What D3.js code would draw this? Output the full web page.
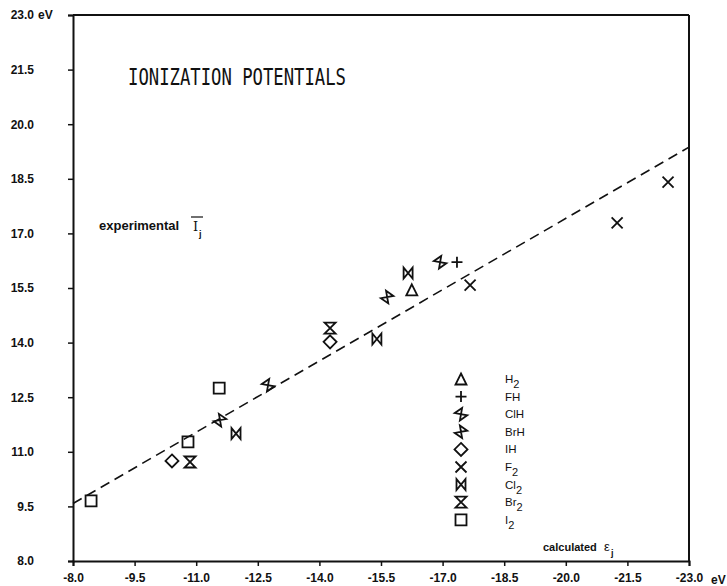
<!DOCTYPE html>
<html>
<head>
<meta charset="utf-8">
<script src="https://cdn.jsdelivr.net/npm/d3@7"></script>
<style>
  body { margin: 0; background: #fff; }
  svg text { font-family: "Liberation Sans", Arial, sans-serif; fill: #111; }
  .tick-label { font-size: 12px; font-weight: bold; }
</style>
</head>
<body>
<div id="chart"></div>
<script>
const svgWidth = 727;
const svgHeight = 586;

const margin = { top: 15, right: 38, bottom: 25, left: 73 };
const width = svgWidth - margin.left - margin.right;
const height = svgHeight - margin.top - margin.bottom;

// tick values
const xTicks = [-8.0, -9.5, -11.0, -12.5, -14.0, -15.5, -17.0, -18.5, -20.0, -21.5, -23.0];
const yTicks = [8.0, 9.5, 11.0, 12.5, 14.0, 15.5, 17.0, 18.5, 20.0, 21.5, 23.0];

// molecules (legend order) and their symbols
const molecules = ["H2", "FH", "ClH", "BrH", "IH", "F2", "Cl2", "Br2", "I2"];
const legendNames = [["H", "2"], ["FH", ""], ["ClH", ""], ["BrH", ""], ["IH", ""], ["F", "2"], ["Cl", "2"], ["Br", "2"], ["I", "2"]];

// calculated eps_j (x) and experimental I_j (y)
const pts_H2  = [[-16.25, 15.45]];
const pts_FH  = [[-17.35, 16.21]];
const pts_ClH = [[-12.75, 12.83], [-16.94, 16.21]];
const pts_BrH = [[-11.58, 11.87], [-15.65, 15.25]];
const pts_IH  = [[-10.41, 10.75], [-14.26, 14.02]];
const pts_F2  = [[-17.67, 15.58], [-21.25, 17.29], [-22.49, 18.41]];
const pts_Cl2 = [[-11.97, 11.50], [-15.40, 14.10], [-16.16, 15.91]];
const pts_Br2 = [[-10.85, 10.72], [-14.26, 14.40]];
const pts_I2  = [[-8.44, 9.65], [-10.80, 11.27], [-11.56, 12.75]];

// fitted dashed line ends
const fitLine = [[-8.0, 9.58], [-23.0, 19.37]];

const svg = d3.select("#chart")
  .append("svg")
  .attr("width", svgWidth)
  .attr("height", svgHeight);

const xScale = d3.scaleLinear().domain([-8, -23]).range([margin.left, margin.left + width]);
const yScale = d3.scaleLinear().domain([8, 23]).range([margin.top + height, margin.top]);

// axes
const bottomAxis = d3.axisBottom(xScale).tickValues(xTicks).tickSize(5).tickFormat(d => d3.format(".1f")(d).replace("−", "-"));
const leftAxis = d3.axisLeft(yScale).tickValues(yTicks).tickSize(5).tickFormat(d3.format(".1f"));

const xAxis = svg.append("g")
  .attr("transform", `translate(0, ${margin.top + height})`)
  .call(bottomAxis);
const yAxis = svg.append("g")
  .attr("transform", `translate(${margin.left}, 0)`)
  .call(leftAxis);

[xAxis, yAxis].forEach(ax => {
  ax.select(".domain").attr("stroke", "#111").attr("stroke-width", 2);
  ax.selectAll(".tick line").attr("stroke", "#111").attr("stroke-width", 1.5);
  ax.selectAll(".tick text")
    .attr("class", "tick-label")
    .attr("font-family", null)
    .attr("font-size", null)
    .attr("fill", "#111");
});
xAxis.selectAll(".tick text").attr("y", 12);
// y labels right-aligned at x = 34
yAxis.selectAll(".tick text").attr("x", 34 - margin.left).attr("text-anchor", "end");

// eV units
svg.append("text").attr("class", "tick-label")
  .attr("x", 38).attr("y", yScale(23) + 4).text("eV");
svg.append("text").attr("class", "tick-label")
  .attr("x", xScale(-23) + 22).attr("y", margin.top + height + 23).text("eV");

// top and right frame
svg.append("line")
  .attr("x1", xScale(-8)).attr("x2", xScale(-23))
  .attr("y1", yScale(23)).attr("y2", yScale(23))
  .attr("stroke", "#111").attr("stroke-width", 2);
svg.append("line")
  .attr("x1", xScale(-23)).attr("x2", xScale(-23))
  .attr("y1", yScale(23)).attr("y2", yScale(8))
  .attr("stroke", "#111").attr("stroke-width", 2);

// dashed fit line
svg.append("path")
  .datum(fitLine)
  .attr("d", d3.line().x(d => xScale(d[0])).y(d => yScale(d[1])))
  .attr("fill", "none")
  .attr("stroke", "#111")
  .attr("stroke-width", 1.6)
  .attr("stroke-dasharray", "10,6");

// symbol paths, centered at 0,0
const s = 5.5;
function hourglass(r) {
  return `M${-r},${-r}L${r},${-r}L${-r},${r}L${r},${r}Z`;
}
const symbolPath = {
  H2: `M0,${-s}L${s},${s}L${-s},${s}Z`,
  FH: `M${-s},0L${s},0M0,${-s}L0,${s}`,
  ClH: hourglass(4.5),
  BrH: hourglass(4.5),
  IH: `M0,${-s - 1}L${s + 1},0L0,${s + 1}L${-s - 1},0Z`,
  F2: `M${-s},${-s}L${s},${s}M${s},${-s}L${-s},${s}`,
  Cl2: `M${-4.5},${-s}L${4.5},${s}L${4.5},${-s}L${-4.5},${s}Z`,
  Br2: hourglass(s),
  I2: `M${-s},${-s}L${s},${-s}L${s},${s}L${-s},${s}Z`
};
const symbolRotate = { ClH: -35, BrH: 35 };

const allPoints = {
  H2: pts_H2, FH: pts_FH, ClH: pts_ClH, BrH: pts_BrH, IH: pts_IH,
  F2: pts_F2, Cl2: pts_Cl2, Br2: pts_Br2, I2: pts_I2
};

function drawSymbol(g, name, x, y) {
  g.append("path")
    .attr("d", symbolPath[name])
    .attr("transform", `translate(${x},${y}) rotate(${symbolRotate[name] || 0})`)
    .attr("fill", "none")
    .attr("stroke", "#111")
    .attr("stroke-width", 1.8)
    .attr("stroke-linejoin", "miter");
}

const pointGroup = svg.append("g");
molecules.forEach(m => {
  allPoints[m].forEach(p => drawSymbol(pointGroup, m, xScale(p[0]), yScale(p[1])));
});

// legend
const legend = svg.append("g");
molecules.forEach((m, i) => {
  const ly = 379 + i * 17.6;
  drawSymbol(legend, m, 461, ly);
  const t = legend.append("text")
    .attr("x", 505).attr("y", ly + 4)
    .attr("font-size", 11.5);
  t.append("tspan").text(legendNames[i][0]);
  if (legendNames[i][1]) {
    t.append("tspan").attr("dy", 5).attr("font-size", 11).text(legendNames[i][1]);
  }
});

// title
svg.append("text")
  .attr("x", 128).attr("y", 85)
  .style("font-family", "'DejaVu Sans Mono', monospace")
  .attr("font-size", 23)
  .attr("textLength", 218)
  .attr("lengthAdjust", "spacingAndGlyphs")
  .text("IONIZATION POTENTIALS");

// axis captions
svg.append("text")
  .attr("x", 99).attr("y", 230)
  .attr("font-size", 13).attr("font-weight", "bold")
  .text("experimental");
svg.append("text")
  .attr("x", 193).attr("y", 231)
  .attr("font-size", 13)
  .style("font-family", "'DejaVu Serif', serif")
  .text("I");
svg.append("line")
  .attr("x1", 191).attr("x2", 203).attr("y1", 217).attr("y2", 217)
  .attr("stroke", "#111").attr("stroke-width", 1.2);
svg.append("text")
  .attr("x", 199).attr("y", 237)
  .attr("font-size", 9).attr("font-weight", "bold")
  .text("j");

svg.append("text")
  .attr("x", 543).attr("y", 551)
  .attr("font-size", 11).attr("font-weight", "bold")
  .text("calculated");
svg.append("text")
  .attr("x", 604).attr("y", 551)
  .attr("font-size", 13)
  .text("ε");
svg.append("text")
  .attr("x", 611).attr("y", 556)
  .attr("font-size", 9).attr("font-weight", "bold")
  .text("j");
</script>
</body>
</html>
